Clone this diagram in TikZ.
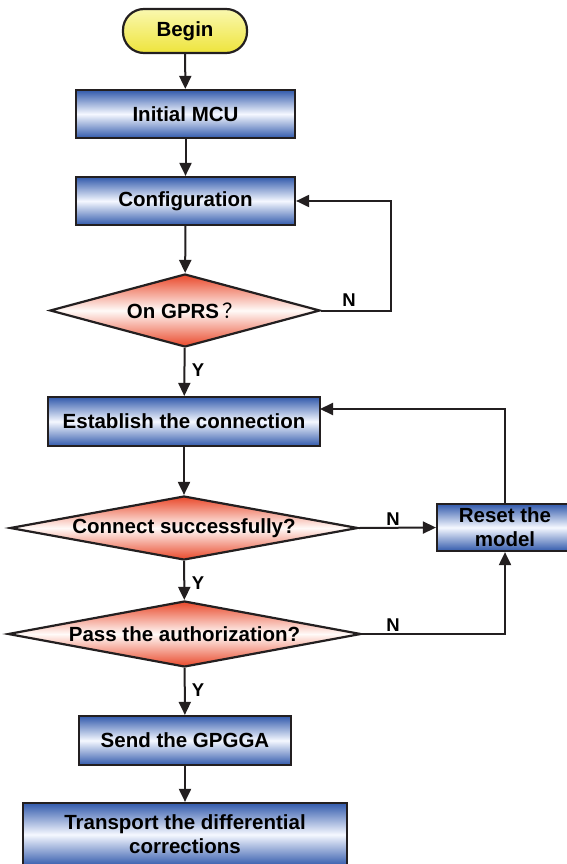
\documentclass[tikz,border=0pt]{standalone}
\usepackage{fontspec}
\setmainfont{Liberation Sans}
\newfontfamily\cjk{Noto Sans CJK SC}
\usetikzlibrary{shapes.geometric,arrows.meta}
\definecolor{ln}{RGB}{35,31,32}
\definecolor{bdark}{RGB}{50,90,172}
\definecolor{blight}{RGB}{245,248,255}
\definecolor{rdark}{RGB}{233,72,42}
\definecolor{rlight}{RGB}{255,250,248}
\definecolor{ytop}{RGB}{250,248,175}
\definecolor{ybot}{RGB}{238,228,60}
\tikzset{
  txt/.style={font=\fontsize{20.5}{24}\selectfont\bfseries, text=black},
  bbox/.style={txt, rectangle, draw=ln, line width=2.2pt, top color=bdark, bottom color=bdark, middle color=blight, align=center, inner sep=0pt},
  dbox/.style={txt, diamond, draw=ln, line width=2.2pt, top color=rdark, bottom color=rdark, middle color=rlight, inner sep=0pt, shape aspect=5},
  startbox/.style={txt, rectangle, rounded corners=21pt, draw=ln, line width=2.2pt, top color=ytop, bottom color=ybot, inner sep=0pt},
  conn/.style={draw=ln, line width=2pt, -{Triangle[length=13pt,width=12pt]}},
  lab/.style={font=\fontsize{18.5}{21}\selectfont\bfseries, text=black, inner sep=0pt},
}
\begin{document}
\begin{tikzpicture}[x=1pt,y=-1pt]
\useasboundingbox (0,0) rectangle (567,864);
\clip (0,0) rectangle (567,864);
\node[startbox, minimum width=124pt, minimum height=44pt] (begin) at (185,31) {Begin};
\node[bbox, minimum width=219pt, minimum height=48pt] (init) at (185.5,114) {Initial MCU};
\node[bbox, minimum width=219pt, minimum height=48pt] (conf) at (185.5,201) {Configuration};
\node[dbox, minimum width=270pt, minimum height=73pt] (gprs) at (185,310.5) {On GPRS\,{\cjk\mdseries ？}};
\node[bbox, minimum width=272pt, minimum height=49pt] (est) at (184,421.5) {Establish the connection};
\node[dbox, minimum width=348pt, minimum height=64pt] (cs) at (184,528) {Connect successfully?};
\node[bbox, minimum width=136pt, minimum height=47pt] (reset) at (505,527.5) {Reset the\\model};
\node[dbox, minimum width=353pt, minimum height=66pt] (pass) at (184.5,634) {Pass the authorization?};
\node[bbox, minimum width=212pt, minimum height=49pt] (send) at (185,740.5) {Send the GPGGA};
\node[bbox, minimum width=324pt, minimum height=63pt] (trans) at (185,834.5) {Transport the differential\\corrections};
\coordinate (gc) at (391,310.5);
\coordinate (estin) at (320,409);
\draw[conn] (begin) -- (init);
\draw[conn] (init) -- (conf);
\draw[conn] (conf) -- (gprs);
\draw[conn] (gprs.east) -- (gc) |- (conf.east);
\draw[conn] (gprs) -- (est);
\draw[conn] (est) -- (cs);
\draw[conn] (cs.east) -- (reset.west);
\draw[conn] (reset.north) |- (estin);
\draw[conn] (cs) -- (pass);
\draw[conn] (pass.east) -| (reset.south);
\draw[conn] (pass) -- (send);
\draw[conn] (send) -- (trans);
\node[lab] (n1) at (349,300) {N};
\node[lab] (y1) at (198,370) {Y};
\node[lab] (n2) at (393,519) {N};
\node[lab] (y2) at (198,583) {Y};
\node[lab] (n3) at (393,625) {N};
\node[lab] (y3) at (198,690) {Y};
\end{tikzpicture}
\end{document}
